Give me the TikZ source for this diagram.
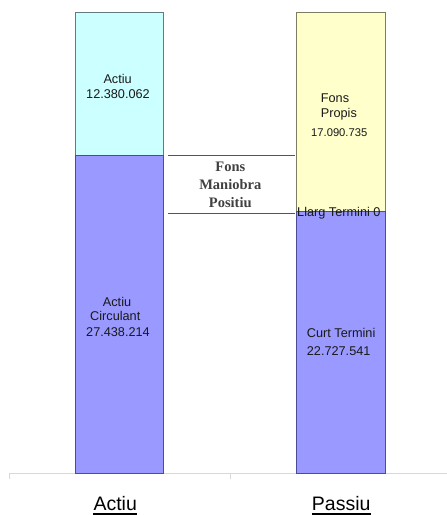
\documentclass[tikz,border=0pt]{standalone}
\usepackage{fontspec}
\setmainfont{Liberation Sans}
\newfontfamily\fmserif{Liberation Serif}
\definecolor{cyanfill}{RGB}{204,255,255}
\definecolor{cyanedge}{RGB}{95,125,125}
\definecolor{purplefill}{RGB}{153,153,255}
\definecolor{purpleedge}{RGB}{75,75,150}
\definecolor{yellowfill}{RGB}{255,255,204}
\definecolor{yellowedge}{RGB}{125,125,95}
\definecolor{axisgray}{RGB}{217,217,217}
\definecolor{linkgray}{RGB}{85,85,85}
\definecolor{txt}{RGB}{25,25,25}
\begin{document}
\begin{tikzpicture}[x=1bp,y=-1bp,
  barbox/.style={draw, line width=1bp, inner sep=0pt, outer sep=0pt, anchor=north west, rectangle},
  lbl/.style={font=\fontsize{12.7bp}{15bp}\selectfont, inner sep=0pt, anchor=base west, text=txt},
  small/.style={font=\fontsize{11.2bp}{13bp}\selectfont, inner sep=0pt, anchor=base west, text=txt},
  fm/.style={font=\fontsize{14.5bp}{17bp}\fmserif\bfseries, inner sep=0pt, anchor=base, text=black!75},
  axlbl/.style={font=\fontsize{19.5bp}{22bp}\selectfont, inner sep=0pt, anchor=base west, text=black},
  link/.style={draw=linkgray, line width=1bp},
  axisline/.style={draw=axisgray, line width=1bp},
  uline/.style={draw=black, line width=2bp}]
\useasboundingbox (0,0) rectangle (447,515);
% axis
\coordinate (ax0) at (9,473);
\coordinate (ax1) at (447,473);
\coordinate (axm) at (230.5,473);
\draw[axisline] (ax0) -- (ax1);
\draw[axisline] (ax0) -- ++(0,6);
\draw[axisline] (axm) -- ++(0,6);
% bars
\node[barbox, fill=cyanfill, draw=cyanedge, minimum width=88.5bp, minimum height=143bp] (afix) at (75,13) {};
\node[barbox, fill=purplefill, draw=purpleedge, minimum width=88.5bp, minimum height=317bp] (acirc) at (75,156) {};
\node[barbox, fill=yellowfill, draw=yellowedge, minimum width=89bp, minimum height=198bp] (fprop) at (296,13) {};
\node[barbox, fill=purplefill, draw=purpleedge, minimum width=89bp, minimum height=262bp] (curt) at (296,211) {};
% connectors
\coordinate (l1a) at (168,155.5);
\coordinate (l1b) at (295,155.5);
\coordinate (l2a) at (168,213);
\coordinate (l2b) at (295,213);
\draw[link] (l1a) -- (l1b);
\draw[link] (l2a) -- (l2b);
% texts
\node[lbl] (t1) at (103.3,83.5) {Actiu};
\node[lbl] (t2) at (86,98.5) {12.380.062};
\node[lbl] (t3) at (320.7,102.5) {Fons};
\node[lbl] (t4) at (320.7,117.5) {Propis};
\node[small] (t5) at (311,137) {17.090.735};
\node[lbl] (t6) at (297,216) {Llarg Termini 0};
\node[lbl] (t7) at (102.7,306.5) {Actiu};
\node[lbl] (t8) at (90,320.5) {Circulant};
\node[lbl] (t9) at (86,336.5) {27.438.214};
\node[lbl] (t10) at (306.7,337.5) {Curt Termini};
\node[lbl] (t11) at (306.7,355.5) {22.727.541};
\node[fm] (f1) at (230.3,172) {Fons};
\node[fm] (f2) at (230.3,189.5) {Maniobra};
\node[fm] (f3) at (230.3,207) {Positiu};
% axis labels
\node[axlbl] (xa) at (93.3,510) {Actiu\ };
\node[axlbl] (xp) at (311.7,510) {Passiu};
\draw[uline] ([yshift=-3.5bp]xa.base west) -- ([yshift=-3.5bp]xa.base east);
\draw[uline] ([yshift=-3.5bp]xp.base west) -- ([yshift=-3.5bp]xp.base east);
\end{tikzpicture}
\end{document}
